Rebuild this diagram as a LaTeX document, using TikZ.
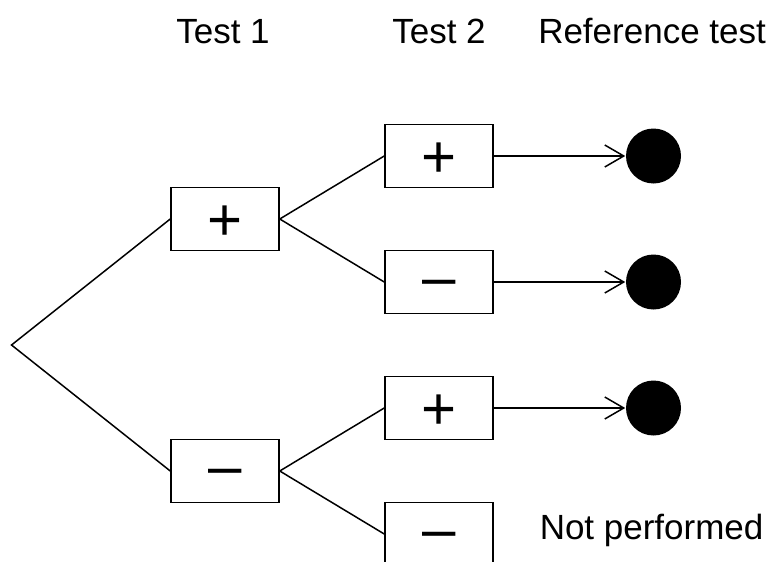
\documentclass[tikz,border=0pt]{standalone}
\usepackage{fontspec}
\setmainfont{Liberation Sans}
\usetikzlibrary{arrows.meta}
\begin{document}
\begin{tikzpicture}[x=1pt, y=-1pt, line width=1.5pt,
  result/.style={draw, minimum width=108pt, minimum height=63pt, inner sep=0pt,
                 font=\fontsize{60}{64}\selectfont, text depth=0pt},
  posbox/.style={result, text height=42pt},
  negbox/.style={result, text height=31pt},
  header/.style={font=\fontsize{35}{42}\selectfont, inner sep=0pt},
  refdot/.style={circle, fill, minimum size=55pt, inner sep=0pt},
  branch/.style={line join=miter},
  link/.style={-{Straight Barb[length=19pt,width=22pt]}}]
  \useasboundingbox (0,0) rectangle (771,562);

  % column headings
  \node[header, anchor=base] (h1) at (223,43.3) {Test 1};
  \node[header, anchor=base] (h2) at (439,43.3) {Test 2};
  \node[header, anchor=base west] (h3) at (537.5,43.3) {Reference test};

  % tree root
  \coordinate (root) at (11.5,345);

  % first test
  \node[posbox] (a) at (225,219) {+};
  \node[negbox] (b) at (225,471) {–};

  % second test
  \node[posbox] (aa) at (439,156) {+};
  \node[negbox] (ab) at (439,282) {–};
  \node[posbox] (ba) at (439,408) {+};
  \node[negbox] (bb) at (439,534) {–};

  % reference test outcomes
  \node[refdot] (r1) at (653.5,156) {};
  \node[refdot] (r2) at (653.5,282) {};
  \node[refdot] (r3) at (653.5,408) {};
  \node[header, anchor=base west] (np) at (539,539.3) {Not performed};

  % branches
  \draw[branch] (a.west) -- (root) -- (b.west);
  \draw[branch] (aa.west) -- (a.east) -- (ab.west);
  \draw[branch] (ba.west) -- (b.east) -- (bb.west);

  % arrows to the reference test
  \draw[link] (aa.east) -- (r1.west);
  \draw[link] (ab.east) -- (r2.west);
  \draw[link] (ba.east) -- (r3.west);
\end{tikzpicture}
\end{document}
